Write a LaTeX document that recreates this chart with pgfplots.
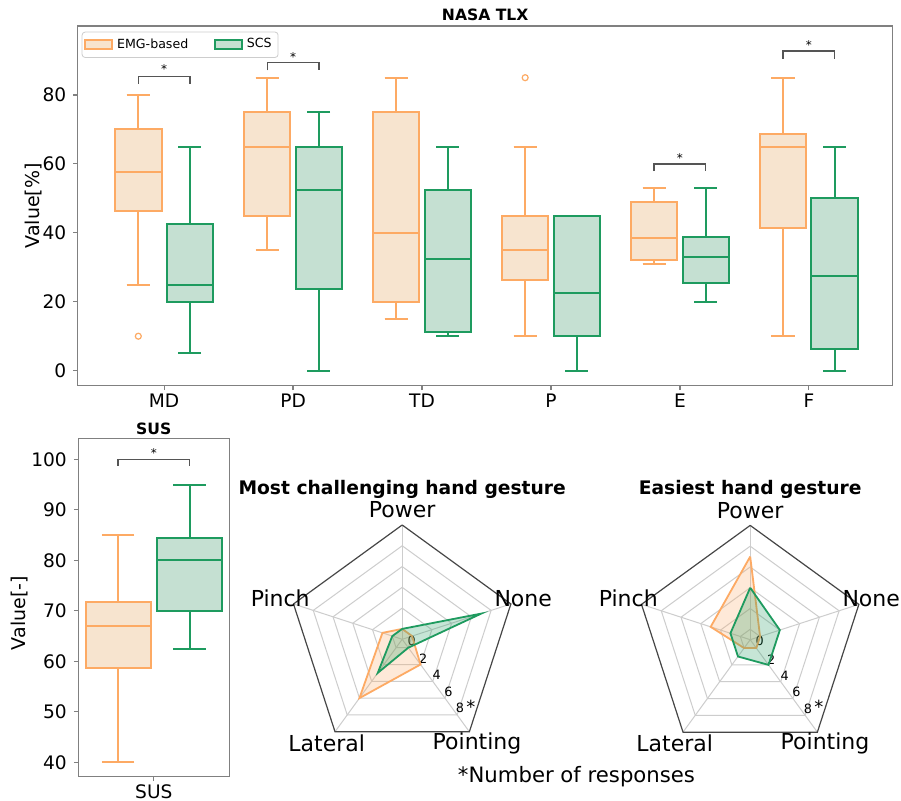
\documentclass[border=0pt]{standalone}
\usepackage{fontspec}
\setmainfont{DejaVu Sans}
\usepackage{pgfplots}
\pgfplotsset{compat=1.18}
\usepgfplotslibrary{statistics}
\usepackage{pgfplotstable}

\definecolor{orE}{RGB}{253,170,100}
\definecolor{orF}{RGB}{247,228,207}
\definecolor{grE}{RGB}{30,155,95}
\definecolor{grF}{RGB}{197,224,210}
\definecolor{brk}{RGB}{85,85,85}
\definecolor{spine}{RGB}{128,128,128}
\definecolor{ring}{RGB}{205,205,205}
\definecolor{frame}{RGB}{70,70,70}

% radar data: angle (deg), number of responses
\pgfplotstableread{
angle n
90 0
18 0
-54 2
-126 6
162 1
90 0
}\chalEMG
\pgfplotstableread{
angle n
90 0
18 7
-54 0
-126 3
162 0
90 0
}\chalSCS
\pgfplotstableread{
angle n
90 7
18 0
-54 0
-126 0
162 3
90 7
}\easyEMG
\pgfplotstableread{
angle n
90 4
18 2
-54 2
-126 1
162 1
90 4
}\easySCS

\pgfplotsset{
  emg/.style={draw=orE, fill=orF, line width=1pt, solid, mark=o,
     mark options={draw=orE, fill=none, line width=0.6pt, scale=0.75},
     boxplot/every whisker/.style={draw=orE, line width=1pt, solid},
     boxplot/every median/.style={draw=orE, line width=1pt, solid},
     boxplot/every box/.style={draw=orE, fill=orF, line width=1pt, solid}},
  scs/.style={draw=grE, fill=grF, line width=1pt, solid, mark=o,
     mark options={draw=grE, fill=none, line width=0.6pt, scale=0.75},
     boxplot/every whisker/.style={draw=grE, line width=1pt, solid},
     boxplot/every median/.style={draw=grE, line width=1pt, solid},
     boxplot/every box/.style={draw=grE, fill=grF, line width=1pt, solid}},
  bracket/.style={brk, line width=0.7pt, forget plot, mark=none},
  boxbase/.style={
    scale only axis, anchor=south west,
    boxplot/draw direction=y,
    tick align=outside, tick pos=left, major tick length=2.2pt,
    every tick/.style={spine, line width=0.6pt},
    axis line style={spine, line width=0.6pt},
    ticklabel style={font=\fontsize{9.3}{11}\selectfont},
    xticklabel style={yshift=1.5pt},
    /pgf/number format/assume math mode=true,
  },
  radar/.style={
    scale only axis, anchor=south west, width=124.68pt, height=124.68pt,
    xmin=-12, xmax=12, ymin=-12, ymax=12, hide axis, clip=false,
  },
  spoke/.style={ring, line width=0.5pt, forget plot, mark=none, data cs=polar},
  rg/.style={ring, line width=0.5pt, forget plot, mark=none, data cs=polar},
  outer/.style={frame, line width=0.6pt, forget plot, mark=none, data cs=polar},
}

\newcommand{\radargrid}{%
  \addplot[spoke] coordinates {(90,0) (90,11)};
  \addplot[spoke] coordinates {(18,0) (18,11)};
  \addplot[spoke] coordinates {(-54,0) (-54,11)};
  \addplot[spoke] coordinates {(-126,0) (-126,11)};
  \addplot[spoke] coordinates {(162,0) (162,11)};
  \addplot[rg] coordinates {(90,1) (18,1) (-54,1) (-126,1) (162,1) (90,1)};
  \addplot[rg] coordinates {(90,3) (18,3) (-54,3) (-126,3) (162,3) (90,3)};
  \addplot[rg] coordinates {(90,5) (18,5) (-54,5) (-126,5) (162,5) (90,5)};
  \addplot[rg] coordinates {(90,7) (18,7) (-54,7) (-126,7) (162,7) (90,7)};
  \addplot[rg] coordinates {(90,9) (18,9) (-54,9) (-126,9) (162,9) (90,9)};
  \addplot[outer] coordinates {(90,11) (18,11) (-54,11) (-126,11) (162,11) (90,11)};
  \node[font=\fontsize{11}{13}\selectfont] at (axis cs:0,12.44) {Power};
  \node[font=\fontsize{11}{13}\selectfont] at (axis cs:-11.74,3.95) {Pinch};
  \node[font=\fontsize{11}{13}\selectfont] at (axis cs:11.65,3.95) {None};
  \node[font=\fontsize{11}{13}\selectfont] at (axis cs:-7.27,-10.0) {Lateral};
  \node[font=\fontsize{11}{13}\selectfont] at (axis cs:7.2,-10.0) {Pointing};
  \node[font=\fontsize{6.4}{7.5}\selectfont] at (axis cs:0.91,-0.13) {0};
  \node[font=\fontsize{6.4}{7.5}\selectfont] at (axis cs:2.03,-1.9) {2};
  \node[font=\fontsize{6.4}{7.5}\selectfont] at (axis cs:3.32,-3.44) {4};
  \node[font=\fontsize{6.4}{7.5}\selectfont] at (axis cs:4.44,-5.04) {6};
  \node[font=\fontsize{6.4}{7.5}\selectfont] at (axis cs:5.56,-6.64) {8};
  \node[font=\fontsize{9}{10}\selectfont] at (axis cs:6.6,-6.5) {*};
}

\begin{document}
\begin{tikzpicture}
\path[use as bounding box] (0,0) rectangle (450.5pt,400.5pt);
\fill[white] (0,0) rectangle (450.5pt,400.5pt);

% ---------------- NASA TLX ----------------
\begin{axis}[boxbase,
  at={(38.85pt,207.65pt)}, width=407.5pt, height=179.85pt,
  xmin=0.33, xmax=6.65, ymin=-4.35, ymax=100,
  xtick={1,2,3,4,5,6}, xticklabels={MD,PD,TD,P,E,F},
  ytick={0,20,40,60,80},
  ylabel={Value[\%]},
  ylabel style={font=\fontsize{9.5}{11}\selectfont, at={(axis description cs:-0.0545,0.5)}, anchor=center},
  title={NASA TLX},
  title style={font=\bfseries\fontsize{7.8}{9}\selectfont, at={(axis description cs:0.5,1)}, anchor=south, inner sep=0pt, yshift=-3.8pt},
  legend image code/.code={\draw[#1, sharp corners] (0pt,-2.35pt) rectangle (13.3pt,2.35pt);},
  legend style={at={(axis description cs:0,1)}, anchor=north west, xshift=2pt, yshift=-2.85pt,
     legend columns=2, font=\fontsize{6.3}{7.5}\selectfont, draw=ring, rounded corners=1.5pt,
     inner sep=1.2pt, /tikz/every even column/.append style={column sep=11pt}},
  legend cell align=left,
]
\addlegendimage{draw=orE, fill=orF, line width=1pt}
\addlegendentry{EMG-based}
\addlegendimage{draw=grE, fill=grF, line width=1pt}
\addlegendentry{SCS}

% MD
\addplot[emg, forget plot, boxplot prepared={draw position=0.8, lower whisker=25, lower quartile=46.4, median=57.5, upper quartile=70, upper whisker=80, box extend=0.36, whisker extend=0.18}] table[row sep=\\, y index=0] {10\\};
\addplot[scs, forget plot, boxplot prepared={draw position=1.2, lower whisker=5, lower quartile=20, median=25, upper quartile=42.5, upper whisker=65, box extend=0.36, whisker extend=0.18}] coordinates {};
% PD
\addplot[emg, forget plot, boxplot prepared={draw position=1.8, lower whisker=35, lower quartile=45, median=65, upper quartile=75, upper whisker=85, box extend=0.36, whisker extend=0.18}] coordinates {};
\addplot[scs, forget plot, boxplot prepared={draw position=2.2, lower whisker=0, lower quartile=23.8, median=52.5, upper quartile=65, upper whisker=75, box extend=0.36, whisker extend=0.18}] coordinates {};
% TD
\addplot[emg, forget plot, boxplot prepared={draw position=2.8, lower whisker=15, lower quartile=20, median=40, upper quartile=75, upper whisker=85, box extend=0.36, whisker extend=0.18}] coordinates {};
\addplot[scs, forget plot, boxplot prepared={draw position=3.2, lower whisker=10, lower quartile=11.2, median=32.5, upper quartile=52.5, upper whisker=65, box extend=0.36, whisker extend=0.18}] coordinates {};
% P
\addplot[emg, forget plot, boxplot prepared={draw position=3.8, lower whisker=10, lower quartile=26.4, median=35, upper quartile=45, upper whisker=65, box extend=0.36, whisker extend=0.18}] table[row sep=\\, y index=0] {85\\};
\addplot[scs, forget plot, boxplot prepared={draw position=4.2, lower whisker=0, lower quartile=10, median=22.5, upper quartile=45, upper whisker=45, box extend=0.36, whisker extend=0.18}] coordinates {};
% E
\addplot[emg, forget plot, boxplot prepared={draw position=4.8, lower whisker=31, lower quartile=32.2, median=38.5, upper quartile=48.8, upper whisker=53, box extend=0.36, whisker extend=0.18}] coordinates {};
\addplot[scs, forget plot, boxplot prepared={draw position=5.2, lower whisker=20, lower quartile=25.4, median=33, upper quartile=38.9, upper whisker=53, box extend=0.36, whisker extend=0.18}] coordinates {};
% F
\addplot[emg, forget plot, boxplot prepared={draw position=5.8, lower whisker=10, lower quartile=41.3, median=65, upper quartile=68.7, upper whisker=85, box extend=0.36, whisker extend=0.18}] coordinates {};
\addplot[scs, forget plot, boxplot prepared={draw position=6.2, lower whisker=0, lower quartile=6.2, median=27.4, upper quartile=50, upper whisker=65, box extend=0.36, whisker extend=0.18}] coordinates {};

% significance brackets
\addplot[bracket] coordinates {(0.8,83.3) (0.8,85.3) (1.2,85.3) (1.2,83.3)};
\addplot[bracket] coordinates {(1.8,87.1) (1.8,89.4) (2.2,89.4) (2.2,87.1)};
\addplot[bracket] coordinates {(4.8,57.9) (4.8,60) (5.2,60) (5.2,57.9)};
\addplot[bracket] coordinates {(5.8,90.5) (5.8,92.7) (6.2,92.7) (6.2,90.5)};
\node[font=\fontsize{6}{7}\selectfont, inner sep=0pt] at (axis cs:1,87.4) {*};
\node[font=\fontsize{6}{7}\selectfont, inner sep=0pt] at (axis cs:2,91.1) {*};
\node[font=\fontsize{6}{7}\selectfont, inner sep=0pt] at (axis cs:5,61.8) {*};
\node[font=\fontsize{6}{7}\selectfont, inner sep=0pt] at (axis cs:6,94.5) {*};
\end{axis}

% ---------------- SUS ----------------
\begin{axis}[boxbase,
  at={(39.15pt,12.15pt)}, width=75.5pt, height=169.2pt,
  xmin=0.577, xmax=1.423, ymin=37.15, ymax=104.16,
  xtick={1}, xticklabels={SUS},
  ytick={40,50,60,70,80,90,100},
  ylabel={Value[-]},
  ylabel style={font=\fontsize{9.5}{11}\selectfont, at={(axis description cs:-0.386,0.483)}, anchor=center},
  title={SUS},
  title style={font=\bfseries\fontsize{7.8}{9}\selectfont, at={(axis description cs:0.5,1)}, anchor=south, inner sep=0pt, yshift=-4.35pt},
]
\addplot[emg, forget plot, boxplot prepared={draw position=0.8, lower whisker=40, lower quartile=58.75, median=66.9, upper quartile=71.8, upper whisker=85, box extend=0.364, whisker extend=0.182}] coordinates {};
\addplot[scs, forget plot, boxplot prepared={draw position=1.2, lower whisker=62.5, lower quartile=70, median=80, upper quartile=84.5, upper whisker=95, box extend=0.364, whisker extend=0.182}] coordinates {};
\addplot[bracket] coordinates {(0.8,98.7) (0.8,99.9) (1.2,99.9) (1.2,98.7)};
\node[font=\fontsize{6}{7}\selectfont, inner sep=0pt] at (axis cs:1,101.2) {*};
\end{axis}

% ---------------- Radar: most challenging ----------------
\begin{axis}[radar, at={(138.76pt,18.51pt)}]
\radargrid
\addplot[orE, line width=0.9pt, fill=orE, fill opacity=0.25, draw opacity=1, mark=none, data cs=polar] table[x=angle, y expr=\thisrow{n}+1] {\chalEMG};
\addplot[grE, line width=0.9pt, fill=grE, fill opacity=0.25, draw opacity=1, mark=none, data cs=polar] table[x=angle, y expr=\thisrow{n}+1] {\chalSCS};
\node[font=\bfseries\fontsize{9.35}{11}\selectfont, anchor=base] at (axis cs:0,13.89) {Most challenging hand gesture};
\end{axis}

% ---------------- Radar: easiest ----------------
\begin{axis}[radar, at={(312.76pt,18.31pt)}]
\radargrid
\addplot[orE, line width=0.9pt, fill=orE, fill opacity=0.25, draw opacity=1, mark=none, data cs=polar] table[x=angle, y expr=\thisrow{n}+1] {\easyEMG};
\addplot[grE, line width=0.9pt, fill=grE, fill opacity=0.25, draw opacity=1, mark=none, data cs=polar] table[x=angle, y expr=\thisrow{n}+1] {\easySCS};
\node[font=\bfseries\fontsize{9.35}{11}\selectfont, anchor=base] at (axis cs:0,13.93) {Easiest hand gesture};
\end{axis}

\node[font=\fontsize{10.6}{12}\selectfont] at (288.25pt,12.15pt) {*Number of responses};
\end{tikzpicture}
\end{document}
